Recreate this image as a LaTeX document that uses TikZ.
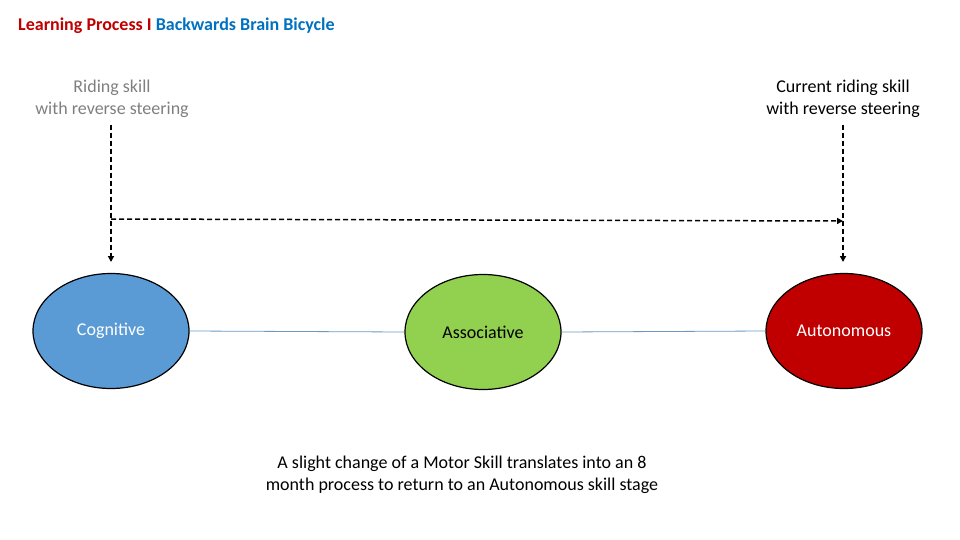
\documentclass[tikz,border=0pt]{standalone}
\usepackage{fontspec}
\setmainfont{Carlito}
\usetikzlibrary{arrows.meta,shapes.geometric}
\definecolor{tred}{HTML}{C00000}
\definecolor{tblue}{HTML}{0070C0}
\definecolor{cblue}{HTML}{5B9BD5}
\definecolor{cgreen}{HTML}{92D050}
\definecolor{gtext}{HTML}{7F7F7F}
\definecolor{link}{HTML}{6A9AC4}
\begin{document}
\begin{tikzpicture}[x=1pt,y=-1pt,
  stage/.style={ellipse,draw=black,line width=1.2pt,minimum width=156pt,minimum height=115pt,font=\fontsize{18}{21}\selectfont},
  lbl/.style={align=center,font=\fontsize{18}{22}\selectfont},
  dsh/.style={dashed,dash pattern=on 5pt off 3pt,line width=1.5pt,-{Triangle[length=6pt,width=6pt]}}]
\useasboundingbox (0,0) rectangle (960,540);
\node[anchor=west,inner sep=0pt,font=\bfseries\fontsize{18}{21}\selectfont] (title) at (18,26) {\textcolor{tred}{Learning Process I} \textcolor{tblue}{Backwards Brain Bicycle}};
\node[stage,fill=cblue,text=white] (cog) at (111,331) {Cognitive};
\node[stage,fill=cgreen,text=black] (ass) at (483,332) {Associative};
\node[stage,fill=tred,text=white] (aut) at (844,331) {Autonomous};
\draw[link,line width=0.8pt] (cog.east) -- (ass.west);
\draw[link,line width=0.8pt] (ass.east) -- (aut.west);
\node[lbl,text=gtext] (l1) at (112,99) {Riding skill\\with reverse steering};
\node[lbl,text=black] (l2) at (843,99) {Current riding skill\\with reverse steering};
\node[lbl,text=black] (l3) at (462,475) {A slight change of a Motor Skill translates into an 8\\month process to return to an Autonomous skill stage};
\coordinate (a1) at (111,125);
\coordinate (a2) at (843,125);
\coordinate (h1) at (111,219);
\coordinate (h2) at (843,221);
\draw[dsh] (a1) -- (111,262);
\draw[dsh] (a2) -- (843,262);
\draw[dsh] (h1) -- (h2);
\end{tikzpicture}
\end{document}
